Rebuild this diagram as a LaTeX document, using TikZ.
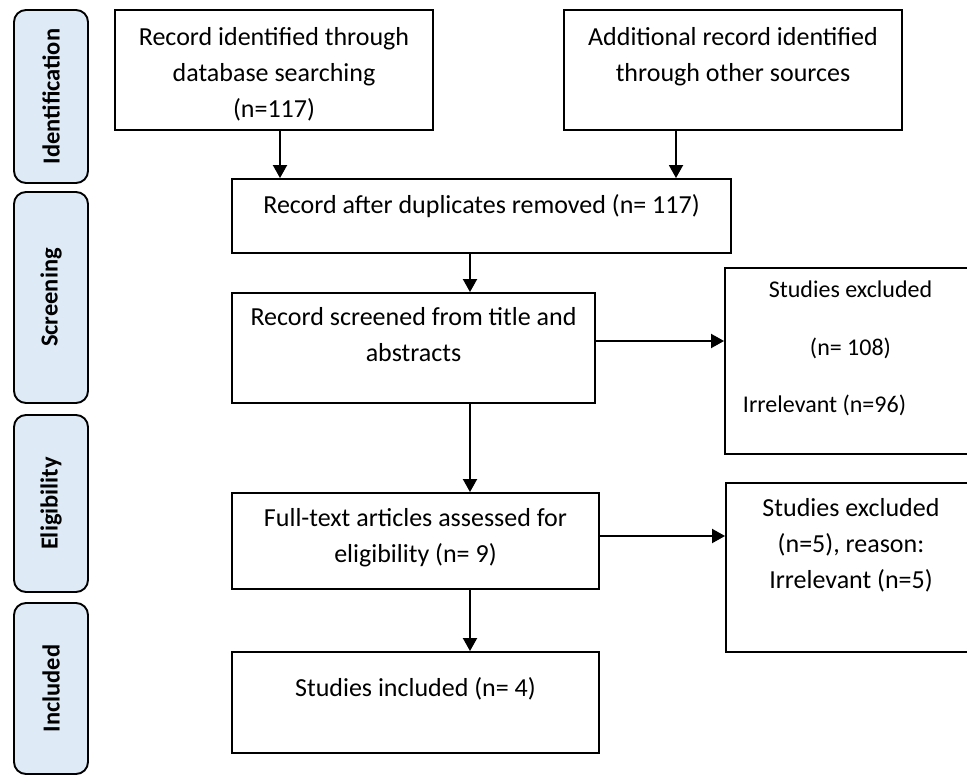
\documentclass[tikz,border=0pt]{standalone}
\usepackage{fontspec}
\setmainfont{Carlito}
\usepackage{xcolor}
\usetikzlibrary{arrows.meta}
\definecolor{phaseblue}{HTML}{DEEBF7}
\tikzstyle{box}=[draw, line width=1.9pt, rectangle, inner sep=0pt]
\tikzstyle{phase}=[draw, line width=1.9pt, rounded corners=12pt, fill=phaseblue, rotate=90, inner sep=0pt, font=\fontsize{24.5}{30}\selectfont\bfseries]
\tikzstyle{lbl}=[anchor=north, inner sep=0pt, align=center, font=\fontsize{26}{36}\selectfont]
\tikzstyle{arr}=[-{Triangle[length=13pt,width=14pt]}, line width=1.9pt]

\begin{document}
\begin{tikzpicture}[x=1pt, y=-1pt]
	\useasboundingbox (0,0) rectangle (967,776);
	% phases on the left
	\node[phase, minimum width=173pt, minimum height=74pt] (ident) at (51,96.5) {Identification};
	\node[phase, minimum width=211pt, minimum height=74pt] (screen) at (51,297.5) {Screening};
	\node[phase, minimum width=177pt, minimum height=74pt] (elig) at (51,503.5) {Eligibility};
	\node[phase, minimum width=171pt, minimum height=74pt] (inclph) at (51,688.5) {Included};
	% boxes
	\node[box, minimum width=318pt, minimum height=120pt, label={[lbl, yshift=-18pt]north:{Record identified through\\database searching\\(n=117)}}] (rec) at (274,70) {};
	\node[box, minimum width=338pt, minimum height=120pt, label={[lbl, yshift=-18pt]north:{Additional record identified\\through other sources}}] (add) at (733,70) {};
	\node[box, minimum width=499pt, minimum height=74pt, label={[lbl, yshift=-16pt]north:{Record after duplicates removed (n= 117)}}] (dup) at (481.5,216) {};
	\node[box, minimum width=363pt, minimum height=110pt, label={[lbl, yshift=-15pt]north:{Record screened from title and\\abstracts}}] (scr) at (413.5,348) {};
	\node[box, minimum width=251pt, minimum height=186pt, label={[lbl, yshift=-14pt, font=\fontsize{24}{57.5}\selectfont]north:{Studies excluded\\(n= 108)\\\hspace*{-52pt}Irrelevant (n=96)}}] (excA) at (850.5,361) {};
	\node[box, minimum width=367pt, minimum height=96pt, label={[lbl, yshift=-16pt]north:{Full-text articles assessed for\\eligibility (n= 9)}}] (full) at (415.5,541) {};
	\node[box, minimum width=250pt, minimum height=169pt, label={[lbl, yshift=-16pt]north:{Studies excluded\\(n=5), reason:\\Irrelevant (n=5)}}] (excB) at (851,567.5) {};
	\node[box, minimum width=367pt, minimum height=101pt, label={[lbl, yshift=-26pt]north:{Studies included (n= 4)}}] (incl) at (415.5,702.5) {};
	% arrows
	\coordinate (axA) at (280,0);
	\coordinate (axB) at (676,0);
	\coordinate (axM) at (470,0);
	\draw[arr] (rec.south -| axA) -- (dup.north -| axA);
	\draw[arr] (add.south -| axB) -- (dup.north -| axB);
	\draw[arr] (dup.south -| axM) -- (scr.north -| axM);
	\draw[arr] (scr.south -| axM) -- (full.north -| axM);
	\draw[arr] (full.south -| axM) -- (incl.north -| axM);
	\draw[arr] ([yshift=7pt]scr.east) -- ([yshift=7pt]scr.east -| excA.west);
	\draw[arr] ([yshift=5pt]full.east) -- ([yshift=5pt]full.east -| excB.west);
\end{tikzpicture}
\end{document}
